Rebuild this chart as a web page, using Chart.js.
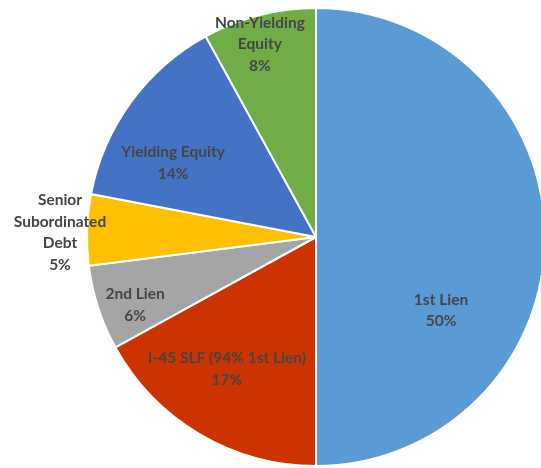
<!DOCTYPE html>
<html>
<head>
<meta charset="utf-8">
<script src="https://cdn.jsdelivr.net/npm/chart.js@4"></script>
<style>
  html, body { margin: 0; padding: 0; background: #fff; overflow: hidden; }
  #wrap { width: 541px; height: 468px; overflow: hidden; position: relative; }
  canvas { position: absolute; left: 0; top: 0; }
</style>
</head>
<body>
<div id="wrap"><canvas id="pieChart" width="632" height="468"></canvas></div>
<script>
const categories = [
    ['1st Lien'],
    ['I-45 SLF (94% 1st Lien)'],
    ['2nd Lien'],
    ['Senior', 'Subordinated', 'Debt'],
    ['Yielding Equity'],
    ['Non-Yielding', 'Equity']
];
const shares = [50, 17, 6, 5, 14, 8];
const sliceColors = ['#5B9BD5', '#CC3300', '#A5A5A5', '#FFC000', '#4472C4', '#70AD47'];

// label block centres, relative to pie centre, in units of the radius
const labelSpots = [
    [0.546, 0.321],
    [-0.389, 0.576],
    [-0.790, 0.297],
    [-1.118, -0.020],
    [-0.624, -0.323],
    [-0.245, -0.841]
];

const sliceLabels = {
    id: 'sliceLabels',
    afterDatasetsDraw(chart) {
        const ctx = chart.ctx;
        const arcs = chart.getDatasetMeta(0).data;
        ctx.save();
        ctx.font = "bold 15.5px Lato, 'Open Sans', sans-serif";
        ctx.fillStyle = '#454545';
        ctx.textAlign = 'center';
        ctx.textBaseline = 'middle';
        const lineH = 21.5;
        arcs.forEach(function(arc, i) {
            const r = arc.outerRadius;
            const cx = arc.x + labelSpots[i][0] * r;
            const cy = arc.y + labelSpots[i][1] * r;
            const lines = categories[i].concat([shares[i] + '%']);
            const top = cy - (lines.length - 1) * lineH / 2;
            lines.forEach(function(t, k) {
                ctx.fillText(t, cx, top + k * lineH);
            });
        });
        ctx.restore();
    }
};

window.onload = function() {
    const ctx = document.getElementById('pieChart').getContext('2d');
    new Chart(ctx, {
        type: 'pie',
        data: {
            labels: categories.map(function(c) { return c.join(' '); }),
            datasets: [{
                data: shares,
                backgroundColor: sliceColors,
                borderColor: '#fff',
                borderWidth: 2
            }]
        },
        options: {
            responsive: false,
            animation: false,
            layout: { padding: { top: 7, bottom: 1, left: 0, right: 0 } },
            plugins: {
                legend: { display: false },
                tooltip: { enabled: false }
            }
        },
        plugins: [sliceLabels]
    });
};
</script>
</body>
</html>
